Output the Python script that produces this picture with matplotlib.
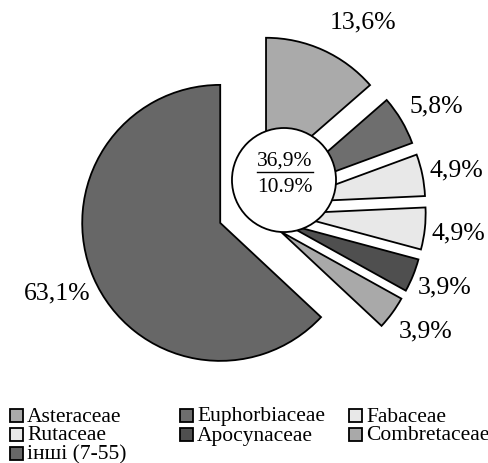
import numpy as np
import matplotlib
matplotlib.use('Agg')
import matplotlib.pyplot as plt
from matplotlib.patches import Circle, Rectangle

# plant families and their share of species, %
families = ['Asteraceae', 'Euphorbiaceae', 'Fabaceae', 'Rutaceae',
            'Apocynaceae', 'Combretaceae', 'інші (7-55)']
shares = [13.6, 5.8, 4.9, 4.9, 3.9, 3.9, 63.1]
share_labels = ['13,6%', '5,8%', '4,9%', '4,9%', '3,9%', '3,9%', '63,1%']
centre_top = '36,9%'
centre_bottom = '10.9%'

colors = ['#aaaaaa', '#6e6e6e', '#e8e8e8', '#e8e8e8', '#4f4f4f', '#a9a9a9', '#676767']
explode = [0.27, 0.27, 0.27, 0.27, 0.27, 0.27, 0.24]
# label placement: distance from wedge apex (radii) and angle nudge (deg)
label_dist = [1.20, 1.10, 1.06, 1.055, 1.065, 1.12, 1.07]
label_turn = [2, 3, 1, -1.5, -3.5, -4, 5]

plt.rcParams['font.family'] = ['Liberation Serif', 'DejaVu Serif']

fig = plt.figure(figsize=(4.89, 4.63), dpi=100)
ax = fig.add_axes([0, 0, 1, 1])

wedges, _ = ax.pie(shares, explode=explode, colors=colors,
                   startangle=90, counterclock=False,
                   wedgeprops=dict(edgecolor='black', linewidth=1.3))

# percentage labels, just outside each (exploded) wedge
for w, lab, d, t in zip(wedges, share_labels, label_dist, label_turn):
    mid = np.deg2rad((w.theta1 + w.theta2) / 2 + t)
    x = w.center[0] + d * np.cos(mid)
    y = w.center[1] + d * np.sin(mid)
    ax.text(x, y, lab, ha='left' if x > 0 else 'right', va='center', fontsize=18.5)

# white circle with the total of the small families
cx, cy, cr = 0.242, 0.215, 0.377
ax.add_patch(Circle((cx, cy), cr, facecolor='white', edgecolor='black', lw=1.3, zorder=5))
ax.text(cx + 0.007, 0.353, centre_top, ha='center', va='center', fontsize=15.5, zorder=6)
ax.plot([0.046, 0.452], [0.27, 0.27], color='black', lw=1, zorder=6)
ax.text(cx + 0.007, 0.164, centre_bottom, ha='center', va='center', fontsize=15.5, zorder=6)

# pixel layout: 138 px per unit radius, pie centre at (250, 210) from top left
ax.set_xlim(-250.6 / 138, 238.4 / 138)
ax.set_ylim(-253.3 / 138, 209.7 / 138)
ax.set_aspect('equal')
ax.axis('off')

# legend, laid out row by row in pixel coordinates
lax = fig.add_axes([0, 0, 1, 1])
lax.set_xlim(0, 489)
lax.set_ylim(463, 0)
lax.axis('off')
col_x = [10, 180, 349]
row_y = [415, 434, 453]
for i, (name, w) in enumerate(zip(families, wedges)):
    x, y = col_x[i % 3], row_y[i // 3]
    lax.add_patch(Rectangle((x, y - 6.5), 13, 13, facecolor=w.get_facecolor(),
                            edgecolor='black', lw=1.3))
    lax.text(x + 17, y + 6.5, name, ha='left', va='baseline', fontsize=15.5)

fig.savefig('out.png', dpi=100)
